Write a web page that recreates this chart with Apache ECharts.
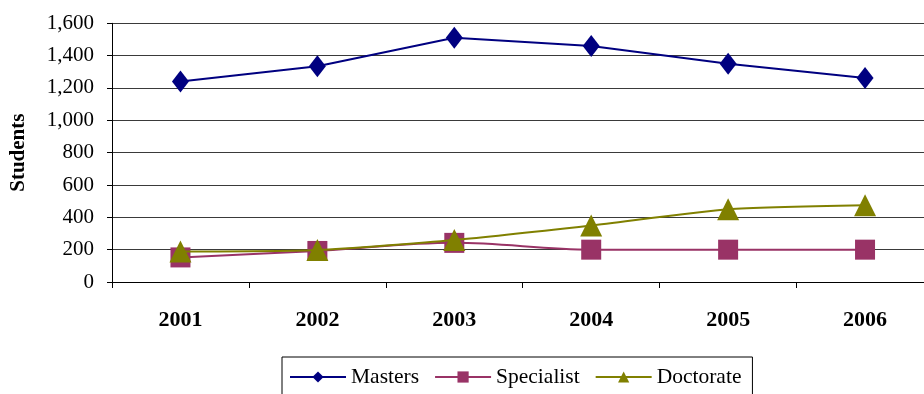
<!DOCTYPE html>
<html>
<head>
<meta charset="utf-8">
<script src="https://cdn.jsdelivr.net/npm/echarts@6/dist/echarts.min.js"></script>
<style>
  html, body { margin: 0; padding: 0; background: #fff; overflow: hidden; }
  #wrap { width: 924px; height: 394px; overflow: hidden; }
  #chart { width: 934px; height: 394px; }
</style>
</head>
<body>
<div id="wrap"><div id="chart"></div></div>
<script>
// Enrollment by program level, 2001-2006
const years = ['2001', '2002', '2003', '2004', '2005', '2006'];
const masters = [1240, 1335, 1510, 1460, 1350, 1262];
const specialist = [152, 192, 242, 200, 200, 200];
const doctorate = [188, 198, 260, 350, 450, 475];
const yTicks = { min: 0, max: 1600, step: 200 };

const serif = '"Liberation Serif", "Times New Roman", serif';

const chart = echarts.init(document.getElementById('chart'), null, { renderer: 'canvas' });

chart.setOption({
  backgroundColor: '#ffffff',
  animation: false,
  textStyle: { fontFamily: serif, color: '#000' },
  grid: { left: 111.5, top: 23.3, right: 0.5, bottom: 112, containLabel: false },
  legend: {
    left: 282,
    top: 357,
    orient: 'horizontal',
    padding: [9, 11, 30, 7],
    itemGap: 15,
    itemWidth: 56,
    itemHeight: 14,
    borderColor: '#000',
    borderWidth: 1,
    textStyle: { fontFamily: serif, fontSize: 21.5, color: '#000' },
    data: ['Masters', 'Specialist', 'Doctorate']
  },
  xAxis: {
    type: 'category',
    data: years,
    boundaryGap: true,
    axisLine: { lineStyle: { color: '#000', width: 1 } },
    axisTick: { show: true, length: 6, inside: false, alignWithLabel: false, lineStyle: { color: '#000' } },
    axisLabel: { fontFamily: serif, fontSize: 22, fontWeight: 'bold', color: '#000', margin: 27 },
    splitLine: { show: false }
  },
  yAxis: {
    type: 'value',
    min: yTicks.min,
    max: yTicks.max,
    interval: yTicks.step,
    name: 'Students',
    nameLocation: 'middle',
    nameGap: 83,
    nameRotate: 90,
    nameTextStyle: { fontFamily: serif, fontSize: 21, fontWeight: 'bold', color: '#000' },
    axisLine: { show: true, lineStyle: { color: '#000', width: 1 } },
    axisTick: { show: true, length: 5, lineStyle: { color: '#000' } },
    axisLabel: {
      fontFamily: serif, fontSize: 21, color: '#000', margin: 18,
      formatter: v => v.toLocaleString('en-US')
    },
    splitLine: { show: true, lineStyle: { color: '#3a3a3a', width: 1.2 } }
  },
  series: [
    {
      name: 'Masters',
      type: 'line',
      data: masters,
      symbol: 'diamond',
      symbolSize: [17, 22],
      lineStyle: { color: '#000080', width: 2 },
      itemStyle: { color: '#000080' },
      z: 3
    },
    {
      name: 'Specialist',
      type: 'line',
      data: specialist,
      smooth: 0.35,
      symbol: 'rect',
      symbolSize: 20,
      lineStyle: { color: '#993366', width: 2 },
      itemStyle: { color: '#993366' },
      z: 2
    },
    {
      name: 'Doctorate',
      type: 'line',
      data: doctorate,
      smooth: 0.2,
      symbol: 'triangle',
      symbolSize: [22, 22],
      lineStyle: { color: '#808000', width: 2 },
      itemStyle: { color: '#808000' },
      z: 4
    }
  ]
});
</script>
</body>
</html>
